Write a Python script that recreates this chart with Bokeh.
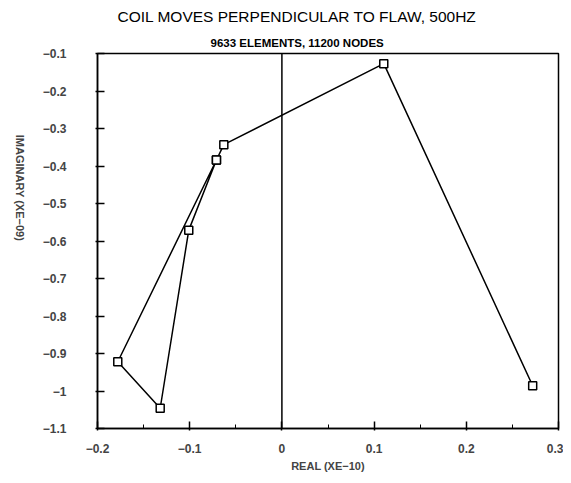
import math
from bokeh.plotting import figure
from bokeh.models import Range1d, FixedTicker, Span, Title
from bokeh.embed import file_html
from bokeh.resources import INLINE

# data
real = [0.272, 0.1105, -0.063, -0.071, -0.101, -0.132, -0.178, -0.071]
imag = [-0.986, -0.127, -0.343, -0.384, -0.571, -1.046, -0.922, -0.384]

x_ticks = [-0.2, -0.1, 0.0, 0.1, 0.2, 0.3]
x_minor = [-0.15, -0.05, 0.05, 0.15, 0.25]
x_labels = ["\u22120.2", "\u22120.1", "0", "0.1", "0.2", "0.3"]
y_ticks = [-0.1, -0.2, -0.3, -0.4, -0.5, -0.6, -0.7, -0.8, -0.9, -1.0, -1.1]
y_labels = ["\u22120.1", "\u22120.2", "\u22120.3", "\u22120.4", "\u22120.5", "\u22120.6",
            "\u22120.7", "\u22120.8", "\u22120.9", "\u22121", "\u22121.1"]

title_text = "COIL MOVES PERPENDICULAR TO FLAW, 500HZ"
subtitle_text = "9633 ELEMENTS, 11200 NODES"
x_label = "REAL (XE\u221210)"
y_label = "IMAGINARY (XE\u221209)"

FONT = "Liberation Sans"

p = figure(width=563, height=478, frame_width=461, frame_height=375,
           min_border_left=97, min_border_top=53, min_border_right=5, min_border_bottom=50,
           x_range=Range1d(-0.2, 0.3), y_range=Range1d(-1.1, -0.1),
           output_backend="svg", toolbar_location=None, tools="")
p.background_fill_color = "white"
p.border_fill_color = "white"
p.outline_line_color = "black"
p.outline_line_width = 1.5
p.xgrid.visible = False
p.ygrid.visible = False

xa = p.xaxis[0]
xa.ticker = FixedTicker(ticks=x_ticks, minor_ticks=x_minor)
xa.major_label_overrides = {t: l for t, l in zip(x_ticks, x_labels)}
xa.axis_label = x_label
xa.axis_label_text_font = FONT
xa.axis_label_text_font_style = "bold"
xa.axis_label_text_font_size = "11px"
xa.axis_label_standoff = 4
xa.major_label_text_font = FONT
xa.major_label_text_font_style = "bold"
xa.major_label_text_font_size = "12px"
xa.major_label_standoff = 13
xa.major_tick_in = 7
xa.major_tick_out = 2
xa.minor_tick_in = 4
xa.minor_tick_out = 0
xa.axis_line_width = 1.5
xa.major_tick_line_width = 1.5

ya = p.yaxis[0]
ya.ticker = FixedTicker(ticks=y_ticks, minor_ticks=[])
ya.major_label_overrides = {t: l for t, l in zip(y_ticks, y_labels)}
ya.major_label_text_font = FONT
ya.major_label_text_font_style = "bold"
ya.major_label_text_font_size = "12px"
ya.major_label_standoff = 29
ya.major_tick_in = 7
ya.major_tick_out = 2
ya.minor_tick_in = 0
ya.minor_tick_out = 0
ya.axis_line_width = 1.5
ya.major_tick_line_width = 1.5
ya.axis_label = y_label
ya.axis_label_text_font = FONT
ya.axis_label_text_font_style = "bold"
ya.axis_label_text_font_size = "11px"
ya.axis_label_standoff = 20
try:
    ya.axis_label_orientation = -math.pi / 2
except Exception:
    pass

p.add_layout(Span(location=0, dimension="height", line_color="black", line_width=1.5))

p.line(real, imag, line_color="black", line_width=1.5)
p.scatter(real, imag, marker="square", size=8, fill_color="white",
          line_color="black", line_width=1.5)

p.add_layout(Title(text=subtitle_text, align="left", offset=113, text_font=FONT,
                   text_font_size="11.5px", text_font_style="bold",
                   text_color="black", standoff=10), "above")
p.add_layout(Title(text=title_text, align="left", offset=20, text_font=FONT,
                   text_font_size="15.5px", text_font_style="normal",
                   text_color="black", standoff=10), "above")

open("out.html", "w").write(file_html(p, INLINE))
